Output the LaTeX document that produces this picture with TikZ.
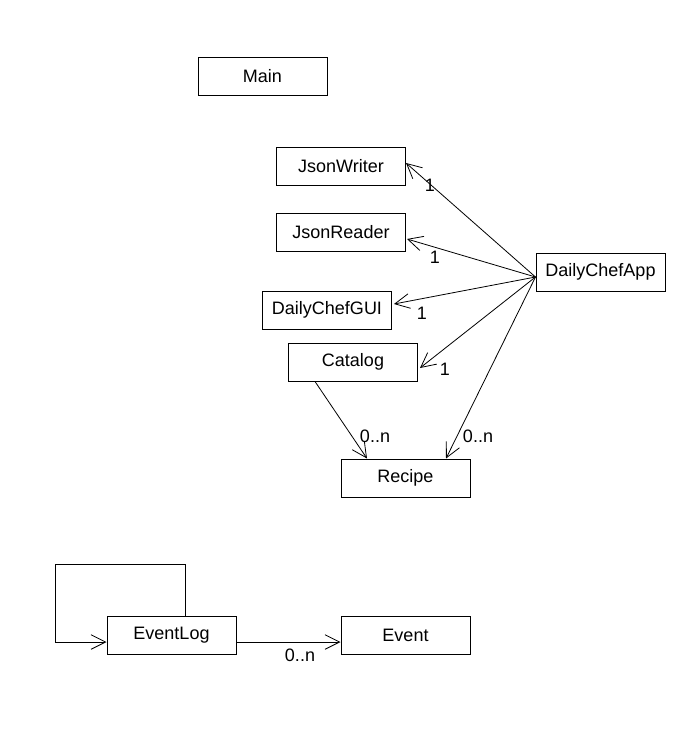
\documentclass[tikz,border=0pt]{standalone}
\usepackage{fontspec}
\setmainfont{Liberation Sans}
\usetikzlibrary{arrows.meta}

\begin{document}
\begin{tikzpicture}[x=0.75pt,y=-0.75pt]
\tikzstyle{every node}=[font=\fontsize{13.5}{16}\selectfont]
\tikzstyle{class}=[draw, line width=0.75pt, minimum width=96.75pt, minimum height=28.5pt, inner sep=0pt]
\tikzstyle{assoc}=[line width=0.6pt, -{Straight Barb[length=11pt,width=11pt]}]
\tikzstyle{mult}=[inner sep=1pt]

\useasboundingbox (0,0) rectangle (687,732);

\node[class] (main) at (262.5,76) {Main};
\node[class] (jw) at (341,166) {JsonWriter};
\node[class] (jr) at (341,232) {JsonReader};
\node[class] (app) at (600.5,272) {DailyChefApp};
\node[class] (gui) at (327,310) {DailyChefGUI};
\node[class] (cat) at (353,362) {Catalog};
\node[class] (rec) at (405.5,478) {Recipe};
\node[class] (log) at (171.5,635) {EventLog};
\node[class] (ev) at (405.5,635) {Event};

\coordinate (appw) at ([shift={(0,5)}]app.west);
\coordinate (loop) at (55,564);

\draw[assoc] (appw) -- ([shift={(0,-3)}]jw.east);
\draw[assoc] (appw) -- ([shift={(1,7)}]jr.east);
\draw[assoc] (appw) -- ([shift={(2,-6)}]gui.east);
\draw[assoc] (appw) -- ([shift={(2,6)}]cat.east);
\draw[assoc] ([shift={(-38,0)}]cat.south) -- ([shift={(-38.5,0)}]rec.north);
\draw[assoc] (appw) -- ([shift={(40.5,0)}]rec.north);

\draw[assoc] ([shift={(13.5,0)}]log.north) |- (loop) |- ([shift={(0,7)}]log.west);
\draw[assoc] ([shift={(0,7)}]log.east) -- ([shift={(0,7)}]ev.west);

\node[mult] (m1) at (430,185) {1};
\node[mult] (m2) at (435,257) {1};
\node[mult] (m3) at (422,313) {1};
\node[mult] (m4) at (445,369) {1};
\node[mult] (m5) at (375,436) {0..n};
\node[mult] (m6) at (478,436) {0..n};
\node[mult] (m7) at (300,655) {0..n};

\end{tikzpicture}
\end{document}
